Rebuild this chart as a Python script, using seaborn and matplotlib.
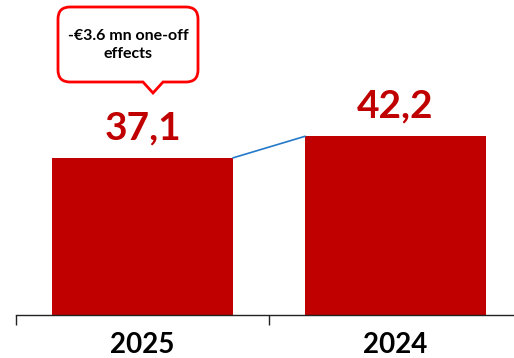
import matplotlib
matplotlib.use("Agg")
import matplotlib.pyplot as plt
import seaborn as sns
import pandas as pd
from matplotlib.path import Path
from matplotlib.patches import PathPatch
from matplotlib.transforms import Affine2D
from matplotlib.ticker import FixedLocator

categories = ["2025", "2024"]
values = [37.1, 42.2]
callout_text = "-€3.6 mn one-off\neffects"

sns.set_theme(style="white")
plt.rcParams['font.family'] = ['Lato', 'DejaVu Sans']

W, H = 514, 358
fig = plt.figure(figsize=(W / 100, H / 100), dpi=100)
ax = fig.add_axes([16 / W, (H - 315) / H, (W - 16) / W, 315 / H])

df = pd.DataFrame({"year": categories, "value": values})
bw = 0.715
sns.barplot(data=df, x="year", y="value", color="#C00000", saturation=1,
            width=bw, ax=ax, edgecolor="none")

ax.set_xlim(-0.5, -0.5 + (W - 16) / 253)
ax.set_ylim(0, 315 / 4.235)

# connector line between bar tops
ax.plot([0 + bw / 2, 1 - bw / 2], [values[0], values[1]], color="#2479C8", lw=1.2)

# value labels
for i, v in enumerate(values):
    ax.annotate(f"{v:.1f}".replace(".", ","), (i, v), xytext=(0, 9),
                textcoords="offset points", ha="center", va="bottom",
                fontsize=28, fontweight="bold", color="#C00000")

# axes styling
for s in ["top", "right", "left"]:
    ax.spines[s].set_visible(False)
ax.spines["bottom"].set_color("#222222")
ax.spines["bottom"].set_linewidth(1.0)
ax.set_yticks([])
ax.set_xlabel("")
ax.set_ylabel("")
ax.xaxis.set_minor_locator(FixedLocator([-0.5, 0.5, 1.5]))
ax.tick_params(axis="x", which="major", length=0, pad=12, labelsize=20)
ax.tick_params(axis="x", which="minor", length=7, width=1, color="#222222",
               direction="out", bottom=True)
for lbl in ax.get_xticklabels():
    lbl.set_fontweight("bold")
    lbl.set_color("black")

# callout bubble (pixel coords, y down)
L, R, T, B, r = 58, 198, 7, 82, 12
x1, x2, tip = 143, 163, (153, 93)
verts = [(L + r, T), (R - r, T), (R, T), (R, T + r), (R, B - r), (R, B), (R - r, B),
         (x2, B), tip, (x1, B), (L + r, B), (L, B), (L, B - r), (L, T + r), (L, T),
         (L + r, T), (L + r, T)]
codes = [Path.MOVETO, Path.LINETO, Path.CURVE3, Path.CURVE3, Path.LINETO, Path.CURVE3,
         Path.CURVE3, Path.LINETO, Path.LINETO, Path.LINETO, Path.LINETO, Path.CURVE3,
         Path.CURVE3, Path.LINETO, Path.CURVE3, Path.CURVE3, Path.CLOSEPOLY]
tr = Affine2D().scale(1, -1).translate(0, H)
patch = PathPatch(Path(verts, codes), facecolor="white", edgecolor="#FF0000", lw=2,
                  transform=tr, zorder=5)
fig.add_artist(patch)
fig.text(128 / W, 1 - 45 / H, callout_text, ha="center", va="center", fontsize=11.5,
         fontweight="bold", color="black", linespacing=1.45, zorder=6)

fig.savefig("out.png", dpi=100)
